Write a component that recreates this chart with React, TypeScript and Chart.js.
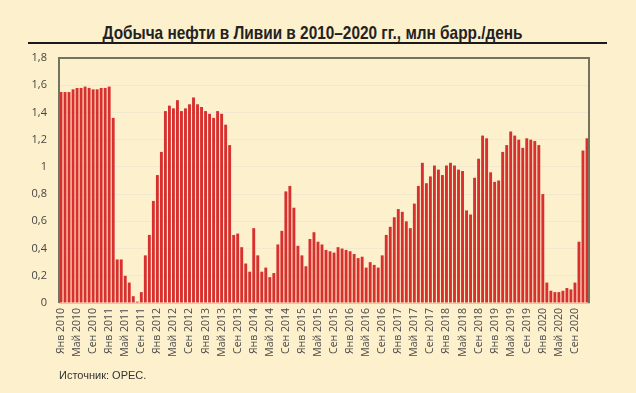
import React, { useEffect, useLayoutEffect, useRef } from 'react';
import { Chart, registerables } from 'chart.js';

Chart.register(...registerables);

const monthNames = ['Янв', 'Фев', 'Мар', 'Апр', 'Май', 'Июн', 'Июл', 'Авг', 'Сен', 'Окт', 'Ноя', 'Дек'];
const years = [2010, 2011, 2012, 2013, 2014, 2015, 2016, 2017, 2018, 2019, 2020];

// Monthly output, mln barrels per day
const y2010 = [1.55, 1.55, 1.55, 1.57, 1.58, 1.58, 1.59, 1.58, 1.57, 1.57, 1.58, 1.58];
const y2011 = [1.59, 1.36, 0.32, 0.32, 0.2, 0.15, 0.05, 0.01, 0.08, 0.35, 0.5, 0.75];
const y2012 = [0.94, 1.11, 1.41, 1.45, 1.43, 1.49, 1.41, 1.43, 1.46, 1.51, 1.46, 1.44];
const y2013 = [1.41, 1.39, 1.36, 1.41, 1.39, 1.31, 1.16, 0.5, 0.51, 0.41, 0.29, 0.23];
const y2014 = [0.55, 0.35, 0.23, 0.26, 0.19, 0.22, 0.43, 0.53, 0.82, 0.86, 0.7, 0.42];
const y2015 = [0.35, 0.27, 0.47, 0.52, 0.45, 0.43, 0.39, 0.38, 0.37, 0.41, 0.4, 0.39];
const y2016 = [0.38, 0.36, 0.33, 0.34, 0.26, 0.3, 0.28, 0.26, 0.35, 0.5, 0.56, 0.63];
const y2017 = [0.69, 0.67, 0.6, 0.55, 0.73, 0.86, 1.03, 0.88, 0.93, 1.01, 0.98, 0.94];
const y2018 = [1.01, 1.03, 1.01, 0.98, 0.97, 0.68, 0.65, 0.92, 1.06, 1.23, 1.21, 0.96];
const y2019 = [0.89, 0.9, 1.11, 1.16, 1.26, 1.23, 1.2, 1.14, 1.21, 1.2, 1.19, 1.16];
const y2020 = [0.8, 0.15, 0.09, 0.08, 0.08, 0.09, 0.11, 0.1, 0.15, 0.45, 1.12, 1.21];

const values = [...y2010, ...y2011, ...y2012, ...y2013, ...y2014, ...y2015, ...y2016, ...y2017, ...y2018, ...y2019, ...y2020];
const categories = years.flatMap((y) => monthNames.map((m) => `${m} ${y}`));

const yTickMax = 1.8;
const yTickStep = 0.2;

const titleText = 'Добыча нефти в Ливии в 2010–2020 гг., млн барр./день';
const titleTargetWidth = 420;

export default function App() {
  const ref = useRef<HTMLCanvasElement>(null);
  const titleRef = useRef<HTMLSpanElement>(null);

  useLayoutEffect(() => {
    const el = titleRef.current;
    if (el) {
      const w = el.offsetWidth;
      if (w > 0) el.style.transform = `scaleX(${titleTargetWidth / w})`;
    }
  }, []);

  useEffect(() => {
    const frame = {
      id: 'frame',
      afterDatasetsDraw(chart: any) {
        const { ctx, chartArea } = chart;
        const { left, top, right, bottom } = chartArea;
        ctx.save();
        ctx.strokeStyle = '#74735f';
        ctx.lineWidth = 2;
        ctx.beginPath();
        ctx.moveTo(left, bottom);
        ctx.lineTo(left, top);
        ctx.lineTo(right, top);
        ctx.lineTo(right, bottom);
        ctx.stroke();
        ctx.restore();
      },
    };

    const chart = new Chart(ref.current!, {
      type: 'bar',
      data: {
        labels: categories,
        datasets: [
          {
            data: values,
            backgroundColor: '#d7302e',
            borderWidth: 0,
            barPercentage: 0.72,
            categoryPercentage: 1,
          },
        ],
      },
      options: {
        responsive: false,
        animation: false,
        devicePixelRatio: 1,
        layout: { padding: { top: 58, right: 47, left: 0, bottom: 0 } },
        plugins: { legend: { display: false }, tooltip: { enabled: false }, title: { display: false } },
        scales: {
          x: {
            afterFit: (s: any) => {
              s.height = 90;
            },
            grid: { display: false, drawTicks: false },
            border: { display: true, color: '#dcc8b8', width: 1 },
            ticks: {
              autoSkip: false,
              minRotation: 90,
              maxRotation: 90,
              padding: 5,
              color: '#4a4a4a',
              font: { family: 'Open Sans', size: 10.5 },
              callback: (_v: any, i: number) => (i % 4 === 0 ? categories[i] : ''),
            },
          },
          y: {
            min: 0,
            max: yTickMax,
            afterFit: (s: any) => {
              s.width = 59;
            },
            grid: { color: '#f2e7cf', drawTicks: false, lineWidth: 1 },
            border: { display: false },
            ticks: {
              stepSize: yTickStep,
              padding: 12,
              color: '#444',
              font: { family: 'Open Sans', size: 11 },
              callback: (v: any) => (Math.round(Number(v) * 10) / 10).toString().replace('.', ','),
            },
          },
        },
      },
      plugins: [frame],
    });
    return () => chart.destroy();
  }, []);

  return (
    <div
      style={{
        position: 'fixed',
        left: 0,
        top: 0,
        width: 636,
        height: 393,
        background: '#fdf0cd',
        overflow: 'hidden',
      }}
    >
      <div
        style={{
          position: 'absolute',
          left: 28,
          width: 579,
          top: 42,
          height: 0,
          borderBottom: '2px solid #1a1a1a',
        }}
      />
      <div
        style={{
          position: 'absolute',
          left: 0,
          width: 626,
          top: 22,
          height: 21,
          lineHeight: '21px',
          textAlign: 'center',
          whiteSpace: 'nowrap',
        }}
      >
        <span
          ref={titleRef}
          style={{
            display: 'inline-block',
            transformOrigin: 'center',
            font: 'bold 19px "Liberation Sans", Arial, sans-serif',
            color: '#222',
          }}
        >
          {titleText}
        </span>
      </div>
      <canvas ref={ref} width={636} height={393} style={{ position: 'absolute', left: 0, top: 0 }} />
      <div
        style={{
          position: 'absolute',
          left: 59,
          top: 369,
          font: '11px "Liberation Sans", Arial, sans-serif',
          color: '#333',
          whiteSpace: 'nowrap',
        }}
      >
        Источник: OPEC.
      </div>
    </div>
  );
}
